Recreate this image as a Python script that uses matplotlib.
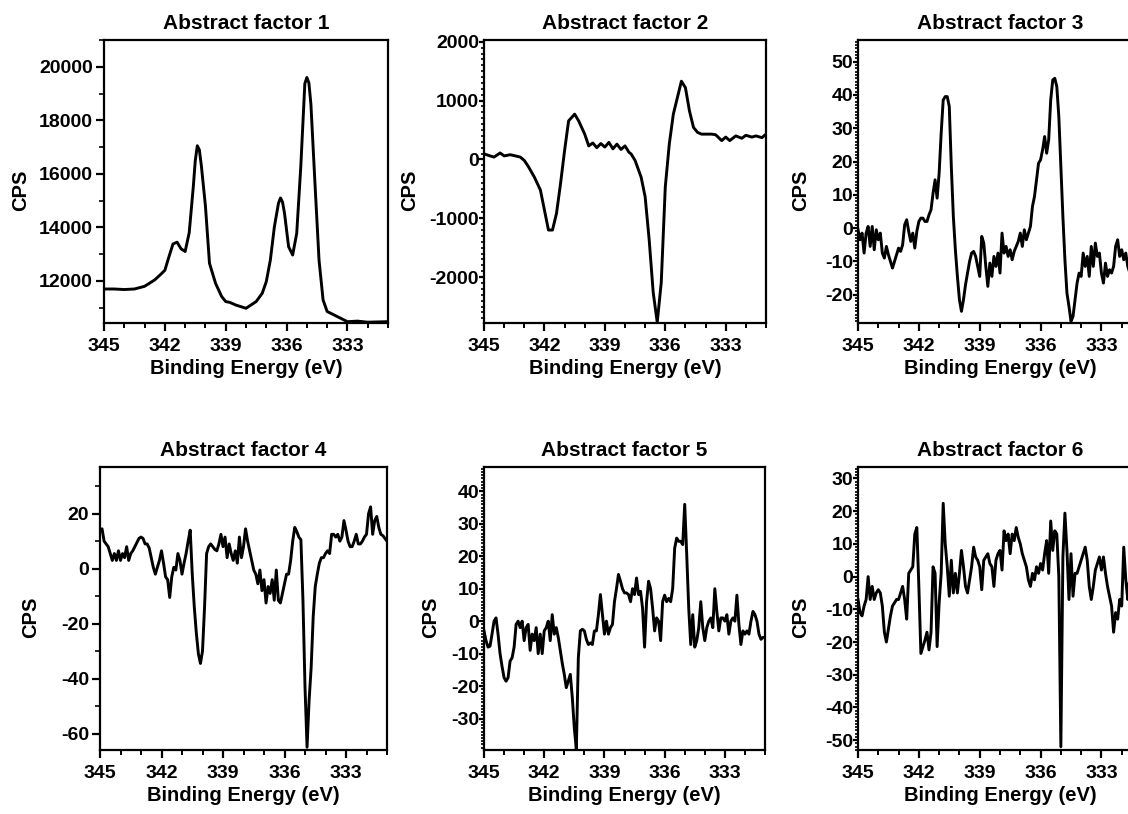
import numpy as np
import matplotlib
matplotlib.use("Agg")
import matplotlib.pyplot as plt
from matplotlib.ticker import MultipleLocator

plt.rcParams["font.family"] = ["Liberation Sans", "DejaVu Sans"]
plt.rcParams["font.weight"] = "bold"
plt.rcParams["axes.unicode_minus"] = False

# ---- data (binding energy in eV, CPS) ----
# factor 1 and 2: smooth curves, irregular sampling
be_f1 = [345.0, 344.5, 344.0, 343.5, 343.0, 342.5, 342.2, 342.0, 341.8, 341.6,
         341.4, 341.2, 341.0, 340.8, 340.6, 340.5, 340.4, 340.3, 340.2, 340.0,
         339.8, 339.5, 339.2, 339.0, 338.8, 338.5, 338.0, 337.5, 337.2, 337.0,
         336.8, 336.6, 336.4, 336.3, 336.2, 336.1, 335.9, 335.7, 335.5, 335.3,
         335.1, 335.0, 334.9, 334.8, 334.6, 334.4, 334.2, 334.0, 333.5, 333.0,
         332.5, 332.0, 331.0]
cps_f1 = [11700, 11700, 11680, 11700, 11800, 12040, 12250, 12400, 12900, 13380,
          13450, 13200, 13100, 13800, 15500, 16500, 17050, 16900, 16300, 14800,
          12660, 11910, 11420, 11230, 11200, 11100, 10980, 11230, 11540, 11975,
          12780, 14030, 14900, 15100, 14950, 14520, 13280, 12970, 13780, 16260,
          19370, 19600, 19400, 18600, 15640, 12780, 11290, 10860, 10670, 10480,
          10500, 10460, 10480]

be_f2 = [345.0, 344.7, 344.5, 344.2, 344.0, 343.7, 343.5, 343.2, 343.0, 342.8,
         342.5, 342.2, 342.0, 341.8, 341.6, 341.4, 341.2, 341.0, 340.8, 340.5,
         340.3, 340.0, 339.8, 339.6, 339.4, 339.2, 339.0, 338.8, 338.6, 338.4,
         338.2, 338.0, 337.8, 337.7, 337.5, 337.2, 337.0, 336.8, 336.6, 336.4,
         336.2, 336.0, 335.8, 335.6, 335.4, 335.2, 335.0, 334.8, 334.6, 334.4,
         334.2, 334.0, 333.7, 333.5, 333.2, 333.0, 332.8, 332.5, 332.2, 332.0,
         331.7, 331.5, 331.2, 331.0]
cps_f2 = [95, 60, 40, 110, 60, 80, 65, 40, -17, -120,
          -300, -520, -860, -1200, -1200, -915, -410, 150, 655, 770,
          655, 430, 230, 280, 200, 270, 210, 290, 180, 260,
          170, 230, 120, 95, -17, -300, -635, -1365, -2260, -2770,
          -2090, -466, 265, 770, 1050, 1330, 1220, 825, 545, 460,
          430, 430, 430, 420, 320, 380, 320, 400, 360, 410,
          380, 400, 370, 430]

# factors 3-6: noisy curves, sampled every 0.1 eV from 345.0 eV downwards
cps_f3 = [-0.5, -3.5, -1.5, -7.5, -1.5, 0.5, -5.5, 0.5, -6.5, -0.5,
          -3.5, -1.5, -7.5, -9, -5.5, -8, -10, -12, -10, -8,
          -6, -7, -5, 1, 2.5, -1, -4, -1.5, -6, -1,
          2, 3, 3, 2, 2, 4, 5.5, 10.5, 14.5, 9,
          16.5, 28.5, 38.5, 39.5, 39.5, 36.5, 18.5, 3.5, -6.5, -14.5,
          -21.5, -25, -21.5, -17, -13.5, -10, -7.5, -7, -8.5, -11.5,
          -14.5, -2.5, -4.5, -11.5, -17.5, -10.5, -14.5, -8.5, -11.5, -7.5,
          -13.5, -1.5, -7.5, -5.5, -8.5, -6.5, -9.5, -7, -5.5, -4,
          -1.5, -5.5, -0.5, -3.5, -1.5, 0.5, 6.5, 9.5, 14.5, 19.5,
          20.5, 23.5, 27.5, 22.5, 26.5, 38.5, 44.5, 45, 42.5, 33.5,
          18.5, 3.5, -9.5, -19.5, -23.5, -28, -26.5, -21.5, -16.5, -13.5,
          -14.5, -7.5, -11.5, -8.5, -14.5, -5.5, -11.5, -4.5, -8.5, -7.5,
          -13.5, -16.5, -10.5, -14.5, -12.5, -13.5, -11.5, -5.5, -3.5, -8.5,
          -6.5, -9.5, -7.5, -11.5, -13.5, -10.5, -9, -7.5, -9, -11.5,
          -14.5]

cps_f4 = [14, 14.5, 10, 9, 8, 5.5, 3, 5.5, 3, 6.5,
          3, 5.5, 4, 8, 3, 5.5, 6.5, 8, 9.5, 11,
          11.5, 11, 9, 9, 7.5, 4, 0.5, -2, 0.5, 3,
          6.5, 2, -3, -4, -10.5, -3, 0.5, -0.5, 5.5, 3,
          -2, 2, 5.5, 10, 14, -2, -14, -23.5, -31, -34.5,
          -30, -14, 5.5, 8, 9, 8, 7, 6.5, 9, 12.5,
          8, 11.5, 4, 9, 5.5, 3, 6.5, 2, 11.5, 4,
          8, 14.5, 10, 6.5, 3, -0.5, -2, -5.5, -0.5, -8,
          -4, -12.5, -6.5, -9, -4, -11.5, -0.5, -11.5, -12.5, -9,
          -5.5, -2, -2, 3, 10, 15, 13.5, 11.5, 10.5, -11.5,
          -43, -65, -48, -36, -17.5, -6.5, -2, 2, 4, 4,
          5.5, 6.5, 5.5, 12.5, 12.5, 11.5, 12.5, 10, 11.5, 17.5,
          14, 10, 8, 8, 10, 12.5, 9, 9, 10, 11.5,
          12.5, 20, 22.5, 12.5, 17.5, 19, 15, 12.5, 12, 11,
          10]

cps_f5 = [-3, -6, -8, -7.7, -4, 0, 1, -4, -10, -14,
          -17.4, -18.5, -17.4, -12.3, -11.3, -8, -1, 0, -2, 0,
          -6, -2, -1, -9, -4, -6, -2, -10, -4, -10,
          -3, -2, 0, -6, 2, -4, -2, -5, -9, -13,
          -16.4, -20.5, -18.5, -16.4, -23.6, -33, -39.5, -11.3, -3, -2.5,
          -3, -5.6, -7.2, -6.7, -7.2, -3, -3, 2, 8.2, 2,
          -4, 0, -4, -2, -1, 6, 10, 14.4, 12.3, 10,
          8.7, 8.7, 8.2, 6, 10, 8.2, 13.3, 8.2, 9.2, 4,
          -8, 6, 12.3, 10, 4, -3, 1, 0, -6, 6,
          8, 6, 7, 6, 10, 22.5, 25.6, 24.6, 24.6, 23.6,
          36, 20.5, 4, -7.2, 2, -8, -6, -2, 6, -2,
          -6, -2, 0, 1, -2, 10, 3, -3, 1, 1,
          0, 2, -4, 0, 1, 0, 8, -1, -7.2, -3,
          -4, -3, -4, 0, 3, 2, 0, -4, -5.6, -5,
          -5]

cps_f6 = [-7, -11, -12, -9, -7, 0, -7, -3, -7, -5,
          -4, -5, -9, -17, -20, -16, -12, -9, -8, -7,
          -7, -5, -3, -7, -13, 1, 2, 3, 13, 15,
          -3, -23.5, -21.4, -19.4, -17, -22.4, -17, 3, 1, -21.4,
          -8, 1, 22.4, 10, 3, -6, 5, -5, 1, -5,
          1, 8, 3, -3, -5, -1, 3, 9, 6, 5,
          3, -4, 5, 6, 7, 4, 3, -3, 5, 7,
          8, 2, 14, 11, 13, 7, 13, 11, 15, 12,
          10, 7, 5, 3, -1, -3, 1, -1, 3, 1,
          4, 2, 7, 11, 1, 17, 8, 14, 13, 0,
          -52, 6, 19.4, 8, -7, 7, -6, 1, 1, 3,
          5, 7, 9, 5, -3, -7, -3, 2, 4, 6,
          2, 6, 1, -3, -6, -9, -17, -11, -13, -7,
          -9, 9, -1, -7, 1, -3, -7, -13, -10, -8,
          -6]

titles = ["Abstract factor 1", "Abstract factor 2", "Abstract factor 3",
          "Abstract factor 4", "Abstract factor 5", "Abstract factor 6"]


def grid(values):
    # measurement grid for the 0.1 eV scans
    return 345.0 - 0.1 * np.arange(len(values))


series = [
    (be_f1, cps_f1),
    (be_f2, cps_f2),
    (grid(cps_f3), cps_f3),
    (grid(cps_f4), cps_f4),
    (grid(cps_f5), cps_f5),
    (grid(cps_f6), cps_f6),
]

# y axis settings per panel: limits, major step, minor step
ylims = [(10430, 21000), (-2780, 2030), (-28.5, 56.5),
         (-66, 37), (-39.7, 47.5), (-53, 33.5)]
ymajor = [2000, 1000, 10, 20, 10, 10]
yminor = [1000, 100, 1, 10, 1, 1]
label_x = [-0.26, -0.23, -0.17, -0.21, -0.155, -0.17]

W, H = 1128, 814
fig = plt.figure(figsize=(W / 100, H / 100), dpi=100)

# axes boxes in pixels: left, top, right, bottom
boxes = [(104, 40, 388, 323), (484, 40, 766, 323), (858, 40, 1142, 323),
         (100, 467, 387, 750), (484, 467, 765, 750), (858, 467, 1142, 750)]

for i, (x, y) in enumerate(series):
    l, t, r, b = boxes[i]
    ax = fig.add_axes([l / W, 1 - b / H, (r - l) / W, (b - t) / H])
    ax.plot(x, y, color="black", lw=2.1)
    ax.set_xlim(345, 331)
    ax.set_ylim(*ylims[i])

    ax.xaxis.set_major_locator(MultipleLocator(3))
    ax.xaxis.set_minor_locator(MultipleLocator(1))
    ax.yaxis.set_major_locator(MultipleLocator(ymajor[i]))
    ax.yaxis.set_minor_locator(MultipleLocator(yminor[i]))

    dense = yminor[i] * 10 <= ymajor[i]
    ax.tick_params(axis="x", which="major", direction="out", length=6, width=1.6,
                   labelsize=14, pad=5)
    ax.tick_params(axis="x", which="minor", direction="out", length=3.5, width=1.4)
    ax.tick_params(axis="y", which="major", direction="out",
                   length=3.5 if dense else 6, width=1.6, labelsize=14,
                   pad=0 if dense else 2)
    ax.tick_params(axis="y", which="minor", direction="out",
                   length=2.5 if dense else 3.5, width=1.2)
    ax.tick_params(top=False, right=False, which="both")
    for s in ax.spines.values():
        s.set_linewidth(1.6)

    ax.set_title(titles[i], fontsize=15, fontweight="bold", pad=8)
    ax.set_xlabel("Binding Energy (eV)", fontsize=14.5, fontweight="bold", labelpad=3)
    ax.set_ylabel("CPS", fontsize=14.5, fontweight="bold")
    ax.yaxis.set_label_coords(label_x[i], 0.47)

fig.savefig("out.png", dpi=100)
